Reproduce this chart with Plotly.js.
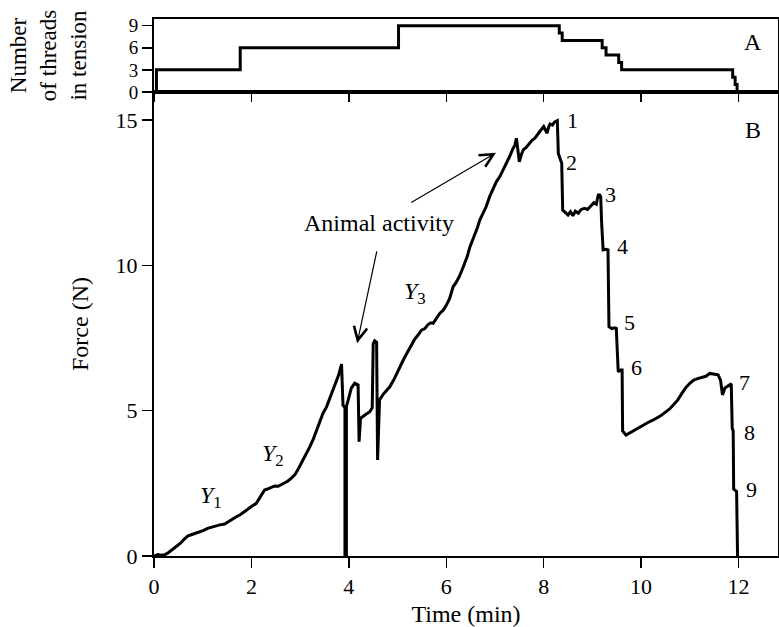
<!DOCTYPE html>
<html>
<head>
<meta charset="utf-8">
<script src="https://cdn.plot.ly/plotly-3.0.1.min.js"></script>
<style>html,body{margin:0;padding:0;background:#fff;}#chart{width:779px;height:627px;}</style>
</head>
<body>
<div id="chart"></div>
<script>
// Panel A: number of threads in tension (step function)
const threadTime  = [0, 0.05, 1.77, 5.02, 8.32, 8.38, 9.20, 9.28, 9.54, 9.60, 11.88, 11.93, 11.97, 12.00];
const threadCount = [0, 3,    6,    9,    8,    7,    6,    5,    4,    3,    2,     1,     0,     0];

// Panel B: force (N) over time (min)
const forceTime = [
  0.00, 0.08, 0.15, 0.22, 0.30, 0.38, 0.46, 0.55, 0.62, 0.70, 0.78, 0.86, 0.94, 1.02, 1.10, 1.18,
  1.26, 1.35, 1.45, 1.52, 1.60, 1.69, 1.77, 1.85, 1.93, 2.00, 2.10, 2.18, 2.27, 2.35, 2.42, 2.48,
  2.55, 2.62, 2.68, 2.75, 2.82, 2.89, 2.97, 3.06, 3.13, 3.20, 3.27, 3.33, 3.40, 3.47, 3.54, 3.61,
  3.67, 3.73, 3.79, 3.85, 3.88, 3.92, 3.92, 3.95, 3.95, 4.00, 4.05, 4.12, 4.19, 4.21, 4.24, 4.33,
  4.43, 4.48, 4.50, 4.53, 4.57, 4.59, 4.63, 4.70, 4.77, 4.84, 4.92, 5.00, 5.05, 5.12, 5.20, 5.29,
  5.35, 5.42, 5.49, 5.56, 5.62, 5.68, 5.73, 5.80, 5.87, 5.94, 6.00, 6.07, 6.14, 6.20, 6.27, 6.35,
  6.43, 6.48, 6.52, 6.58, 6.64, 6.69, 6.75, 6.82, 6.89, 6.96, 7.03, 7.10, 7.17, 7.24, 7.30, 7.36,
  7.41, 7.44, 7.47, 7.50, 7.54, 7.58, 7.64, 7.71, 7.76, 7.82, 7.87, 7.92, 8.00, 8.04, 8.07, 8.10,
  8.13, 8.18, 8.22, 8.28, 8.30, 8.33, 8.37, 8.39, 8.45, 8.50, 8.55, 8.60, 8.65, 8.71, 8.77, 8.84,
  8.90, 8.98, 9.03, 9.08, 9.12, 9.15, 9.17, 9.19, 9.22, 9.28, 9.32, 9.34, 9.40, 9.45, 9.49, 9.53,
  9.58, 9.61, 9.62, 9.69, 9.80, 9.90, 9.97, 10.05, 10.15, 10.25, 10.32, 10.40, 10.50, 10.58, 10.66, 10.75,
  10.84, 10.92, 11.00, 11.08, 11.16, 11.25, 11.33, 11.41, 11.50, 11.58, 11.63, 11.67, 11.72, 11.78, 11.85, 11.87,
  11.89, 11.90, 11.96, 11.98
];
const forceN = [
  0.00, 0.05, 0.03, 0.04, 0.12, 0.22, 0.32, 0.45, 0.58, 0.69, 0.74, 0.78, 0.84, 0.88, 0.95, 0.99,
  1.05, 1.07, 1.10, 1.18, 1.26, 1.35, 1.42, 1.52, 1.64, 1.70, 1.81, 2.02, 2.27, 2.32, 2.38, 2.41,
  2.40, 2.46, 2.50, 2.58, 2.68, 2.79, 3.02, 3.30, 3.52, 3.76, 4.02, 4.28, 4.62, 4.91, 5.12, 5.42,
  5.66, 5.94, 6.22, 6.60, 5.19, 5.10, 0.00, 0.00, 5.14, 5.45, 5.77, 5.94, 5.88, 3.93, 4.74, 4.85,
  4.96, 5.10, 7.30, 7.40, 7.35, 3.30, 5.37, 5.55, 5.70, 5.82, 6.05, 6.35, 6.51, 6.75, 7.00, 7.28,
  7.45, 7.60, 7.77, 7.82, 7.95, 8.02, 8.00, 8.18, 8.35, 8.46, 8.62, 8.86, 9.26, 9.40, 9.62, 9.95,
  10.30, 10.60, 10.76, 11.05, 11.30, 11.56, 11.78, 12.02, 12.36, 12.60, 12.88, 13.05, 13.28, 13.51, 13.74, 13.98,
  14.14, 14.37, 14.00, 13.56, 13.80, 13.97, 14.05, 14.20, 14.30, 14.37, 14.50, 14.60, 14.77, 14.65, 14.54, 14.75,
  14.86, 14.82, 14.92, 14.97, 13.85, 13.70, 13.51, 11.90, 11.80, 11.73, 11.84, 11.70, 11.86, 11.79, 11.92, 11.96,
  11.92, 12.07, 12.15, 12.10, 12.42, 12.42, 12.36, 11.44, 10.53, 10.55, 10.53, 7.89, 7.82, 7.85, 7.83, 6.34,
  6.40, 6.40, 4.30, 4.16, 4.27, 4.38, 4.45, 4.52, 4.60, 4.68, 4.74, 4.82, 4.95, 5.05, 5.19, 5.36,
  5.60, 5.80, 5.94, 6.05, 6.10, 6.15, 6.18, 6.28, 6.24, 6.23, 6.05, 5.54, 5.78, 5.85, 5.92, 4.40,
  4.30, 2.30, 2.22, 0.00
];

// Tick labels
const xTicks = [0, 2, 4, 6, 8, 10, 12];
const forceTicks = [0, 5, 10, 15];
const threadTicks = [0, 3, 6, 9];

// Thread-break labels on panel B
const breakLabels = ['1', '2', '3', '4', '5', '6', '7', '8', '9'];
const breakLabelX = [8.60, 8.58, 9.38, 9.61, 9.77, 9.91, 12.13, 12.23, 12.27];
const breakLabelY = [14.99, 13.52, 12.42, 10.63, 8.02, 6.47, 5.96, 4.24, 2.27];

// Region labels on panel B
const regionLabels = ['<i>Y</i><sub>1</sub>', '<i>Y</i><sub>2</sub>', '<i>Y</i><sub>3</sub>'];
const regionX = [1.18, 2.44, 5.35];
const regionY = [2.04, 3.47, 9.04];

const FONT = 'Liberation Serif, Times New Roman, serif';

const traces = [
  {x: forceTime, y: forceN, type: 'scatter', mode: 'lines', xaxis: 'x', yaxis: 'y',
   line: {color: '#000', width: 3}, hoverinfo: 'skip'},
  {x: threadTime, y: threadCount, type: 'scatter', mode: 'lines', xaxis: 'x2', yaxis: 'y2',
   line: {color: '#000', width: 3, shape: 'hv'}, hoverinfo: 'skip'}
];

const annotations = [];
breakLabels.forEach((t, i) => annotations.push({
  x: breakLabelX[i], y: breakLabelY[i], xref: 'x', yref: 'y', text: t, showarrow: false,
  xanchor: 'center', yanchor: 'middle', font: {family: FONT, size: 22, color: '#000'}
}));
regionLabels.forEach((t, i) => annotations.push({
  x: regionX[i], y: regionY[i], xref: 'x', yref: 'y', text: t, showarrow: false,
  xanchor: 'center', yanchor: 'middle', font: {family: FONT, size: 24, color: '#000'}
}));
annotations.push({x: 4.61, y: 11.47, xref: 'x', yref: 'y', text: 'Animal activity', showarrow: false,
  xanchor: 'center', yanchor: 'middle', font: {family: FONT, size: 24, color: '#000'}});
annotations.push({x: 4.17, y: 7.32, xref: 'x', yref: 'y', ax: 4.58, ay: 10.53, axref: 'x', ayref: 'y',
  text: '', showarrow: true, arrowhead: 5, arrowsize: 2.2, arrowwidth: 1.2, arrowcolor: '#000'});
annotations.push({x: 7.02, y: 13.87, xref: 'x', yref: 'y', ax: 5.25, ay: 12.13, axref: 'x', ayref: 'y',
  text: '', showarrow: true, arrowhead: 5, arrowsize: 2.2, arrowwidth: 1.2, arrowcolor: '#000'});
annotations.push({x: 12.29, y: 14.65, xref: 'x', yref: 'y', text: 'B', showarrow: false,
  xanchor: 'center', yanchor: 'middle', font: {family: FONT, size: 24, color: '#000'}});
annotations.push({x: 0.96, y: 0.957, xref: 'paper', yref: 'paper', text: 'A', showarrow: false,
  xanchor: 'center', yanchor: 'middle', font: {family: FONT, size: 24, color: '#000'}});

const axisCommon = {
  showline: true, linecolor: '#000', linewidth: 2, showgrid: false, zeroline: false,
  ticks: 'outside', ticklen: 10, tickwidth: 1.5, tickcolor: '#000',
  tickfont: {family: FONT, size: 22, color: '#000'}
};

const layout = {
  width: 779, height: 627,
  margin: {l: 154, r: 1, t: 19, b: 71, pad: 0},
  paper_bgcolor: '#fff', plot_bgcolor: '#fff',
  showlegend: false,
  font: {family: FONT, size: 22, color: '#000'},
  xaxis: Object.assign({}, axisCommon, {
    domain: [0, 1], anchor: 'y', range: [0, 12.81], tickvals: xTicks, ticktext: xTicks.map(String),
    mirror: true,
    title: {text: 'Time (min)', font: {family: FONT, size: 24, color: '#000'}, standoff: 8}
  }),
  yaxis: Object.assign({}, axisCommon, {
    domain: [0, 0.8641], anchor: 'x', range: [0, 15.96], tickvals: forceTicks, ticktext: forceTicks.map(String),
    mirror: true,
    title: {text: 'Force (N)', font: {family: FONT, size: 24, color: '#000'}, standoff: 20}
  }),
  xaxis2: Object.assign({}, axisCommon, {
    domain: [0, 1], anchor: 'y2', matches: 'x', range: [0, 12.81], tickvals: xTicks,
    showticklabels: false, ticklen: 8, mirror: true
  }),
  yaxis2: Object.assign({}, axisCommon, {
    domain: [0.8641, 1], anchor: 'x2', range: [0, 9.9], tickvals: threadTicks, ticktext: threadTicks.map(String),
    tickfont: {family: FONT, size: 19, color: '#000'},
    mirror: true,
    title: {text: 'Number<br>of threads<br>in tension', font: {family: FONT, size: 23, color: '#000'}, standoff: 36}
  }),
  annotations: annotations
};

Plotly.newPlot('chart', traces, layout, {staticPlot: true, displayModeBar: false});
</script>
</body>
</html>
